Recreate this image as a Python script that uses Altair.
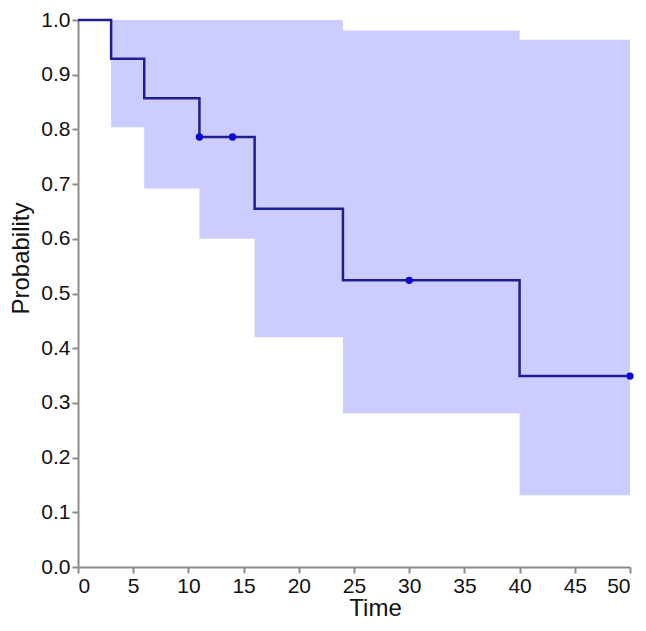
import altair as alt
import pandas as pd

# Kaplan-Meier estimate
step_time = [0, 3, 6, 11, 16, 24, 40, 50]
step_surv = [1.0, 0.929, 0.857, 0.786, 0.655, 0.524, 0.349, 0.349]

# Confidence band
band_time = [3, 6, 11, 16, 24, 40, 50]
band_lower = [0.804, 0.692, 0.600, 0.420, 0.281, 0.131, 0.131]
band_upper = [1.0, 1.0, 1.0, 1.0, 0.981, 0.964, 0.964]

# Censored observations
cens_time = [11, 14, 30, 50]
cens_surv = [0.786, 0.786, 0.524, 0.349]

x_ticks = list(range(0, 51, 5))
y_ticks = [round(i * 0.1, 1) for i in range(11)]

steps = pd.DataFrame({"time": step_time, "surv": step_surv})
band = pd.DataFrame({"time": band_time, "lower": band_lower, "upper": band_upper})
cens = pd.DataFrame({"time": cens_time, "surv": cens_surv})

font = "Liberation Sans"

xs = alt.Scale(domain=[0, 50], nice=False, zero=False)
ys = alt.Scale(domain=[0, 1], nice=False)

x_axis = alt.Axis(
    values=x_ticks, title="Time", grid=False, format="d",
    titleX=297, titleY=48, titleBaseline="alphabetic", titleAnchor="start",
    titleAlign="center",
)
y_axis = alt.Axis(
    values=y_ticks, title="Probability", grid=False, format=".1f",
    titleX=-57, titleY=238, titleAlign="center", titleBaseline="middle",
)

area = alt.Chart(band).mark_area(
    interpolate="step-after", color="#ccccff", opacity=1
).encode(
    x=alt.X("time:Q", scale=xs, axis=x_axis),
    y=alt.Y("lower:Q", scale=ys, axis=y_axis),
    y2="upper:Q",
)

line = alt.Chart(steps).mark_line(
    interpolate="step-after", color="#1e1e8e", strokeWidth=2.5
).encode(
    x=alt.X("time:Q", scale=xs),
    y=alt.Y("surv:Q", scale=ys),
)

pts = alt.Chart(cens).mark_circle(color="#0a0ad2", size=55, opacity=1).encode(
    x=alt.X("time:Q", scale=xs),
    y=alt.Y("surv:Q", scale=ys),
)

chart = (area + line + pts).properties(
    width=552, height=547,
    autosize=alt.AutoSizeParams(type="none"),
    padding={"left": 70, "top": 12, "right": 8, "bottom": 56},
).configure_view(stroke=None).configure_axis(
    domainColor="#8c8c8c", domainWidth=2, tickColor="#8c8c8c", tickWidth=2,
    tickSize=6, labelFont=font, labelFontSize=21, labelColor="#111111",
    titleFont=font, titleFontSize=24, titleFontWeight="normal", titleColor="#111111",
    labelPadding=2,
)

chart.save("out.html", embed_options={"renderer": "svg", "actions": False})
